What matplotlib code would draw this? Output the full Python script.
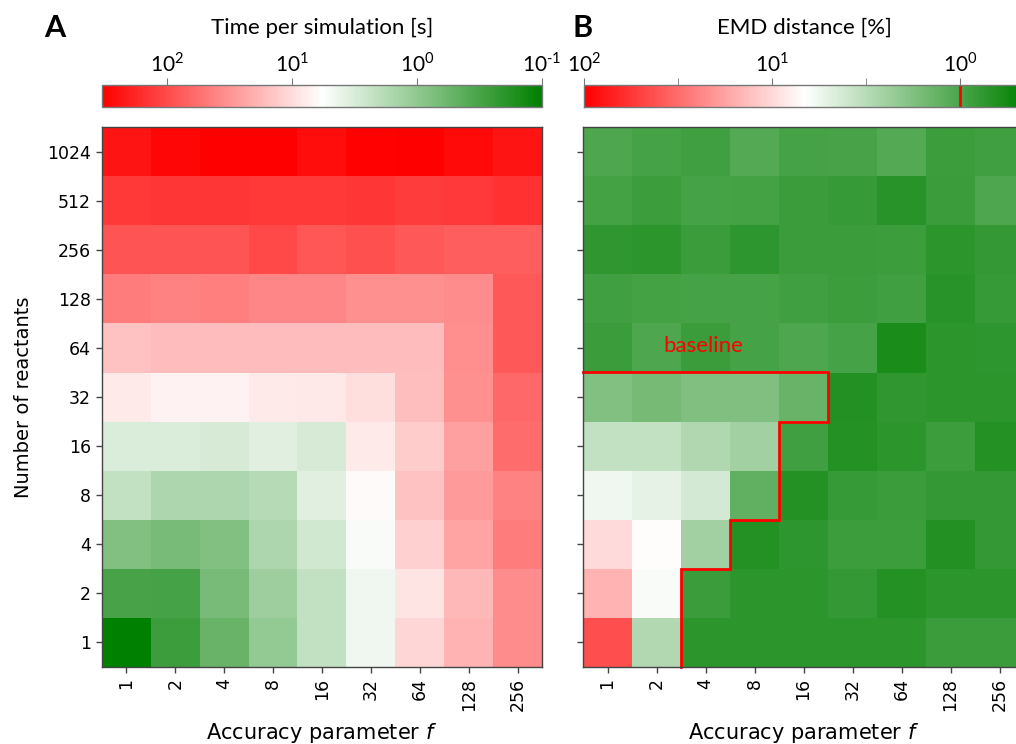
import numpy as np
import matplotlib
matplotlib.use("Agg")
import matplotlib.pyplot as plt
from matplotlib.colors import LinearSegmentedColormap, LogNorm
from matplotlib.ticker import FixedLocator, NullLocator, FixedFormatter

plt.rcParams['font.family'] = ['DejaVu Sans']
plt.rcParams['mathtext.fontset'] = 'custom'
plt.rcParams['mathtext.rm'] = 'Lato'
plt.rcParams['mathtext.it'] = 'DejaVu Sans:italic'

# ---------------- data ----------------
accuracy_f = ["1", "2", "4", "8", "16", "32", "64", "128", "256"]
reactants = ["1", "2", "4", "8", "16", "32", "64", "128", "256", "512", "1024"]

# Time per simulation [s]; rows = reactants (1 ... 1024), cols = f (1 ... 256)
time_s = np.array([
    [0.10, 0.26, 0.52, 1.05, 2.2, 4.5, 11, 18.6, 35],     # 1
    [0.32, 0.31, 0.68, 1.23, 2.2, 4.5, 8.7, 17.4, 35],    # 2
    [0.80, 0.68, 0.80, 1.6, 2.75, 5.2, 12, 24, 46],       # 4
    [2.2, 1.6, 1.6, 1.8, 3.5, 6.3, 15, 28, 42],           # 8
    [3.2, 3.2, 3.0, 3.5, 3.0, 7.9, 13, 26, 58],           # 16
    [7.9, 7.1, 7.0, 7.9, 8.3, 9.8, 16, 33, 63],           # 32
    [15, 16.6, 16.6, 16.6, 16.6, 16.6, 16.6, 34, 80],     # 64
    [46, 42, 44, 39, 39, 33, 33, 35, 80],                 # 128
    [87, 85, 85, 100, 82, 93, 80, 74, 74],                # 256
    [135, 140, 138, 135, 135, 140, 125, 130, 145],        # 512
    [240, 300, 330, 330, 270, 316, 330, 280, 240],        # 1024
])

# EMD distance [%]
emd_pct = np.array([
    [43, 3.0, 0.72, 0.72, 0.72, 0.72, 0.72, 0.84, 0.84],      # 1
    [14.8, 6.2, 0.84, 0.72, 0.72, 0.78, 0.66, 0.72, 0.72],    # 2
    [9.9, 6.9, 2.5, 0.66, 0.74, 0.86, 0.86, 0.65, 0.78],      # 4
    [5.7, 5.2, 4.3, 1.28, 0.66, 0.81, 0.84, 0.78, 0.78],      # 8
    [3.5, 3.5, 2.9, 2.5, 0.89, 0.66, 0.72, 0.86, 0.66],       # 16
    [1.78, 1.58, 1.75, 1.75, 1.35, 0.65, 0.76, 0.72, 0.72],   # 32
    [0.83, 1.03, 0.83, 0.96, 1.03, 0.96, 0.60, 0.72, 0.74],   # 64
    [0.89, 0.93, 0.95, 0.95, 0.90, 0.86, 0.90, 0.69, 0.81],   # 128
    [0.76, 0.72, 0.83, 0.74, 0.84, 0.83, 0.86, 0.72, 0.78],   # 256
    [0.93, 0.86, 0.96, 0.93, 0.83, 0.81, 0.69, 0.83, 1.03],   # 512
    [1.03, 0.96, 0.89, 1.10, 0.96, 0.98, 1.10, 0.86, 0.89],   # 1024
])

# number of f-columns inside the baseline region, per reactant row (1 ... 32)
baseline_cols = [2, 2, 3, 4, 4, 5]

time_range = (0.1, 330.0)
emd_range = (0.45, 100.0)
emd_threshold = 1.0

# ---------------- figure ----------------
cmap = LinearSegmentedColormap.from_list("gwr", [(0, 128/255, 0), (1, 1, 1), (1, 0, 0)])

fig = plt.figure(figsize=(10.16, 7.44), dpi=100)
W, H = 1016, 744

def fx(px):
    return px / W

def fy(py):
    return 1 - py / H

axA = fig.add_axes([fx(102), fy(667), fx(440), 540 / H])
axB = fig.add_axes([fx(583), fy(667), fx(441), 540 / H])
caxA = fig.add_axes([fx(102), fy(107), fx(440), 22 / H])
caxB = fig.add_axes([fx(584), fy(107), fx(441), 22 / H])

normA = LogNorm(vmin=time_range[0], vmax=time_range[1])
normB = LogNorm(vmin=emd_range[0], vmax=emd_range[1])

imA = axA.imshow(time_s, cmap=cmap, norm=normA, origin='lower', aspect='auto',
                 interpolation='nearest')
imB = axB.imshow(emd_pct, cmap=cmap, norm=normB, origin='lower', aspect='auto',
                 interpolation='nearest')

spine_col = '#444444'
for ax in (axA, axB):
    ax.set_xticks(range(len(accuracy_f)))
    ax.set_xticklabels(accuracy_f, rotation=90, fontsize=12.5)
    ax.set_yticks(range(len(reactants)))
    ax.tick_params(axis='both', length=4, width=1, color=spine_col, pad=4)
    for s in ax.spines.values():
        s.set_color(spine_col)
        s.set_linewidth(1)
    ax.set_xlabel("Accuracy parameter $f$", fontsize=15, labelpad=7)

axA.set_yticklabels(reactants, fontsize=12.5)
axB.set_yticklabels([])
axA.set_ylabel("Number of reactants", fontsize=14, labelpad=10)

# baseline staircase
xs, ys = [-0.5], [len(baseline_cols) - 0.5]
for j in range(len(baseline_cols) - 1, -1, -1):
    xr = baseline_cols[j] - 0.5
    xs += [xr, xr]
    ys += [j + 0.5, j - 0.5]
axB.plot(xs, ys, color='red', lw=2, solid_joinstyle='miter', clip_on=False)
axB.text(1.95, 6.03, "baseline", color='red', fontsize=16, family='Lato',
         ha='center', va='center')

# colorbars
for cax, im in ((caxA, imA), (caxB, imB)):
    cb = fig.colorbar(im, cax=cax, orientation='horizontal')
    cb.outline.set_edgecolor('#777777')
    cb.outline.set_linewidth(1)
    cax.invert_xaxis()
    cax.xaxis.set_ticks_position('top')
    cax.xaxis.set_label_position('top')
    cax.tick_params(axis='x', which='both', color='#777777', length=5, pad=2,
                    labelsize=15)

caxA.xaxis.set_major_locator(FixedLocator([100, 10, 1, 0.1]))
caxA.xaxis.set_major_formatter(FixedFormatter([r"$10^{2}$", r"$10^{1}$", r"$10^{0}$",
                                               r"$10^{\text{-1}}$"]))
caxA.xaxis.set_minor_locator(NullLocator())

caxB.xaxis.set_major_locator(FixedLocator([100, 10, 1]))
caxB.xaxis.set_major_formatter(FixedFormatter([r"$10^{2}$", r"$10^{1}$", r"$10^{0}$"]))
caxB.xaxis.set_minor_locator(FixedLocator([10 ** 1.5, 10 ** 0.5]))
caxB.tick_params(axis='x', which='minor', length=5)
caxB.axvline(emd_threshold, color='red', lw=2)

# titles
fig.text(fx(55), fy(28), "A", fontsize=22, fontweight='bold', family='Lato',
         ha='center', va='center')
fig.text(fx(583), fy(28), "B", fontsize=22, fontweight='bold', family='Lato',
         ha='center', va='center')
fig.text(fx(322), fy(28), "Time per simulation [s]", fontsize=16, family='Lato',
         ha='center', va='center')
fig.text(fx(804), fy(28), "EMD distance [%]", fontsize=16, family='Lato',
         ha='center', va='center')

fig.savefig("out.png", dpi=100)
